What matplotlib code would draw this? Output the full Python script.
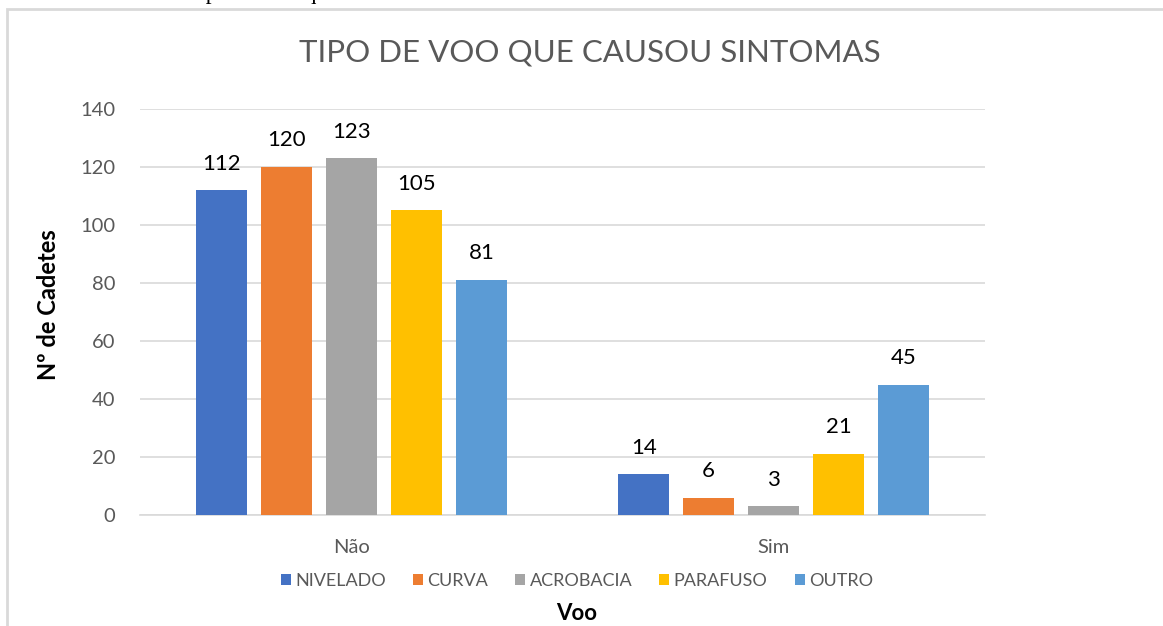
import numpy as np
import matplotlib.pyplot as plt
from matplotlib.patches import Rectangle

categories = ["Não", "Sim"]
series = ["NIVELADO", "CURVA", "ACROBACIA", "PARAFUSO", "OUTRO"]
values = {
    "NIVELADO": [112, 14],
    "CURVA": [120, 6],
    "ACROBACIA": [123, 3],
    "PARAFUSO": [105, 21],
    "OUTRO": [81, 45],
}
colors = ["#4472C4", "#ED7D31", "#A5A5A5", "#FFC000", "#5B9BD5"]

plt.rcParams["font.family"] = ["Lato", "DejaVu Sans"]

fig = plt.figure(figsize=(11.63, 6.26), dpi=100)
ax = fig.add_axes([0.1204, 0.1773, 0.7266, 0.6486])

# chart frame (cut off on the right and bottom in the original)
fig.patches.append(Rectangle((7 / 1163, -0.1), 1.2, 1 - 9 / 626 + 0.1,
                             transform=fig.transFigure, fill=False,
                             edgecolor="#D9D9D9", linewidth=2))
# caption above the frame, mostly cut off at the top edge
fig.text(500 / 1163, 1 + 1 / 626, "Gráfico – Tipo de voo que causou sintomas",
         ha="right", va="baseline", fontsize=17, family="Liberation Serif")

x = np.arange(len(categories))
step = 0.154
width = 0.121
for i, (name, col) in enumerate(zip(series, colors)):
    xs = x + (i - 2) * step
    bars = ax.bar(xs, values[name], width, color=col, label=name, zorder=3)
    for b, v in zip(bars, values[name]):
        ax.annotate(str(v), (b.get_x() + b.get_width() / 2, v),
                    xytext=(0, 12), textcoords="offset points",
                    ha="center", va="bottom", fontsize=16, color="black")

ax.set_xlim(-0.5, 1.5)
ax.set_ylim(0, 140)
ax.set_yticks(range(0, 141, 20))
ax.set_xticks(x)
ax.set_xticklabels(categories)
ax.grid(axis="y", color="#D9D9D9", linewidth=1.2, zorder=0)
for s in ["top", "right", "left"]:
    ax.spines[s].set_visible(False)
ax.spines["bottom"].set_color("#D9D9D9")
ax.spines["bottom"].set_linewidth(1.2)
ax.tick_params(axis="both", length=0, labelsize=14.5, colors="#595959")
ax.tick_params(axis="y", pad=18)
ax.tick_params(axis="x", pad=17)

ax.set_ylabel("Nº de Cadetes", fontsize=17, fontweight="bold")
ax.yaxis.set_label_coords(-0.0947, 0.517)

fig.text(590 / 1163, 1 - 52 / 626, "TIPO DE VOO QUE CAUSOU SINTOMAS",
         ha="center", va="center", fontsize=22.5, color="#595959")

fig.legend(loc="center", bbox_to_anchor=(577 / 1163, 1 - 581 / 626), ncol=5,
           frameon=False, fontsize=13, handlelength=0.55, handleheight=0.55,
           handletextpad=0.25, columnspacing=1.5, labelcolor="#595959")
fig.text(577 / 1163, 1 - 614 / 626, "Voo", ha="center", va="center",
         fontsize=16, fontweight="bold")

fig.savefig("out.png", dpi=100)
